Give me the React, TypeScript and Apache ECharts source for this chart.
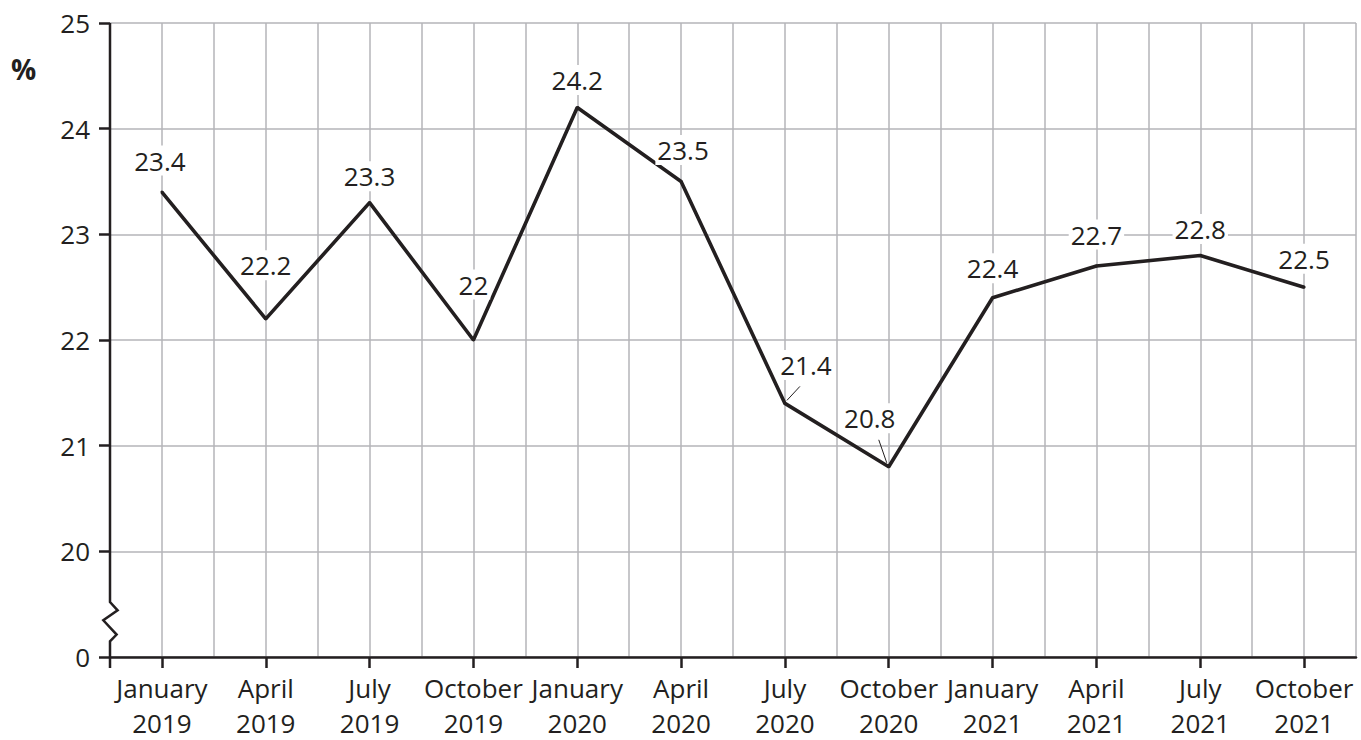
import React, { useEffect, useRef } from "react";
import * as echarts from "echarts";

const categories = [
  "January 2019", "April 2019", "July 2019", "October 2019",
  "January 2020", "April 2020", "July 2020", "October 2020",
  "January 2021", "April 2021", "July 2021", "October 2021",
];
const values = [23.4, 22.2, 23.3, 22, 24.2, 23.5, 21.4, 20.8, 22.4, 22.7, 22.8, 22.5];
// y axis: 19 stands for the broken-axis "0"
const yMin = 19;
const yMax = 25;
const yBreakLabel = "0";

// label offsets (layout only)
const labelOffsets: [number, number][] = [
  [-2, -15], [0, -37], [0, -10], [0, -39], [0, -11], [2, -15],
  [21, -22], [-19, -32], [0, -13], [0, -15], [0, -10], [0, -12],
];
// leader lines (layout only): index, from, to (pixel offsets from point)
const leaders = [
  { index: 6, from: [2, -3], to: [15, -17] },
  { index: 7, from: [-2, -4], to: [-10, -27] },
];

const INK = "#231f20";
const GRIDC = "#b5b5b8";
const FONT = "'Open Sans', 'Noto Sans', sans-serif";

export default function App() {
  const ref = useRef<HTMLDivElement>(null);
  useEffect(() => {
    if (!ref.current) return;
    const chart = echarts.init(ref.current, null, { renderer: "svg" });
    chart.setOption({
      animation: false,
      backgroundColor: "#fff",
      textStyle: { fontFamily: FONT },
      grid: { left: 110, right: 5, top: 23, bottom: 78, containLabel: false },
      xAxis: [
        {
          type: "value",
          min: -0.5,
          max: 11.5,
          interval: 0.5,
          position: "bottom",
          axisLine: { show: true, onZero: false, lineStyle: { color: INK, width: 2.5 } },
          axisTick: { show: false },
          axisLabel: { show: false },
          splitLine: { show: true, lineStyle: { color: GRIDC, width: 1.5 } },
        },
        {
          type: "category",
          data: categories,
          boundaryGap: true,
          position: "bottom",
          axisLine: { show: false, onZero: false },
          axisTick: {
            show: true,
            alignWithLabel: true,
            length: 11,
            lineStyle: { color: INK, width: 2.5 },
          },
          axisLabel: {
            show: true,
            interval: 0,
            margin: 13,
            fontSize: 26,
            lineHeight: 35,
            color: INK,
            fontFamily: FONT,
            formatter: (v: string) => v.replace(" ", "\n"),
          },
          splitLine: { show: false },
        },
      ],
      yAxis: {
        type: "value",
        min: yMin,
        max: yMax,
        interval: 1,
        position: "left",
        axisLine: { show: false, onZero: false },
        axisTick: { show: true, length: 11, lineStyle: { color: INK, width: 2.5 } },
        axisLabel: {
          margin: 20,
          fontSize: 26,
          color: INK,
          fontFamily: FONT,
          formatter: (v: number) => (v === yMin ? yBreakLabel : String(v)),
        },
        splitLine: { show: true, lineStyle: { color: GRIDC, width: 1.5 } },
      },
      series: [
        {
          type: "line",
          xAxisIndex: 1,
          yAxisIndex: 0,
          z: 5,
          symbol: "circle",
          symbolSize: 3,
          showSymbol: true,
          itemStyle: { color: INK },
          lineStyle: { color: INK, width: 3.6 },
          label: {
            show: true,
            position: "top",
            distance: 0,
            fontSize: 26,
            lineHeight: 30,
            color: INK,
            fontFamily: FONT,
            backgroundColor: "#fff",
            padding: [0, 2],
          },
          data: values.map((v, i) => ({ value: v, label: { offset: labelOffsets[i] } })),
        },
      ],
    });

    const o = chart.convertToPixel({ xAxisIndex: 0, yAxisIndex: 0 }, [-0.5, yMin]) as number[];
    const t = chart.convertToPixel({ xAxisIndex: 0, yAxisIndex: 0 }, [-0.5, yMax]) as number[];
    const ox = o[0];
    const oy = o[1];
    const graphics: any[] = [
      {
        type: "rect",
        z: 20,
        shape: { x: ox - 2, y: oy - 56, width: 4, height: 42 },
        style: { fill: "#fff" },
      },
      {
        type: "polyline",
        z: 21,
        shape: {
          points: [
            [ox, t[1]],
            [ox, oy - 55],
            [ox + 7.6, oy - 46.7],
            [ox - 6.7, oy - 36.7],
            [ox + 6.6, oy - 22.4],
            [ox, oy - 15.7],
            [ox, oy + 11],
          ],
        },
        style: { stroke: INK, lineWidth: 2.5, fill: null },
      },
      {
        type: "text",
        z: 21,
        left: 11,
        top: 55,
        style: { text: "%", font: `bold 28px ${FONT}`, fill: INK },
      },
    ];
    leaders.forEach((l) => {
      const p = chart.convertToPixel({ seriesIndex: 0 }, [l.index, values[l.index]]) as number[];
      graphics.push({
        type: "line",
        z: 21,
        shape: { x1: p[0] + l.from[0], y1: p[1] + l.from[1], x2: p[0] + l.to[0], y2: p[1] + l.to[1] },
        style: { stroke: INK, lineWidth: 1 },
      });
    });
    chart.setOption({ graphic: graphics });

    return () => chart.dispose();
  }, []);
  return (
    <div
      ref={ref}
      style={{ position: "fixed", left: 0, top: 0, width: 1361, height: 740, background: "#fff" }}
    />
  );
}
